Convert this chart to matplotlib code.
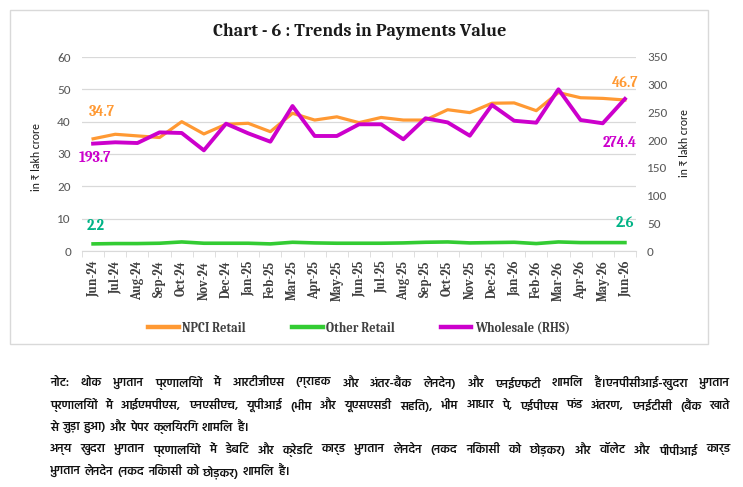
import numpy as np
import matplotlib
matplotlib.use("Agg")
import matplotlib.pyplot as plt
from matplotlib.patches import Rectangle
from matplotlib.lines import Line2D

months = ["Jun-24", "Jul-24", "Aug-24", "Sep-24", "Oct-24", "Nov-24", "Dec-24",
          "Jan-25", "Feb-25", "Mar-25", "Apr-25", "May-25", "Jun-25", "Jul-25",
          "Aug-25", "Sep-25", "Oct-25", "Nov-25", "Dec-25", "Jan-26", "Feb-26",
          "Mar-26", "Apr-26", "May-26", "Jun-26"]
npci_retail = [34.7, 36.1, 35.6, 35.1, 40.0, 36.2, 39.2, 39.5, 36.9, 42.6, 40.5, 41.5,
               39.7, 41.3, 40.5, 40.5, 43.7, 42.8, 45.7, 45.8, 43.4, 49.0, 47.4, 47.2, 46.7]
other_retail = [2.2, 2.3, 2.3, 2.4, 2.8, 2.4, 2.4, 2.4, 2.2, 2.7, 2.5, 2.4,
                2.4, 2.4, 2.5, 2.7, 2.8, 2.5, 2.6, 2.7, 2.3, 2.8, 2.6, 2.6, 2.6]
wholesale = [193.7, 196.1, 194.8, 214.0, 212.9, 181.6, 229.7, 212.3, 197.2, 261.6,
             207.5, 207.5, 228.6, 228.6, 201.5, 239.4, 232.0, 208.0, 263.4, 235.0,
             231.5, 291.7, 236.3, 230.4, 274.4]

title = "Chart - 6 : Trends in Payments Value"
y_label = "in ₹ lakh crore"
legend_labels = ["NPCI Retail", "Other Retail", "Wholesale (RHS)"]
note_lines = [
    "नोट: थोक भुगतान प्रणालियों में आरटीजीएस (ग्राहक और अंतर-बैंक लेनदेन) और एनईएफटी शामिल हैं।एनपीसीआई-खुदरा भुगतान",
    "प्रणालियों में आईएमपीएस, एनएसीएच, यूपीआई (भीम और यूएसएसडी सहित), भीम आधार पे, एईपीएस फंड अंतरण, एनईटीसी (बैंक खाते",
    "से जुड़ा हुआ) और पेपर क्लियरिंग शामिल हैं।",
    "अन्य खुदरा भुगतान प्रणालियों में डेबिट और क्रेडिट कार्ड भुगतान लेनदेन (नकद निकासी को छोड़कर) और वॉलेट और पीपीआई कार्ड",
    "भुगतान लेनदेन (नकद निकासी को छोड़कर) शामिल हैं।",
]
note_justify = [True, True, False, True, False]

ORANGE = "#ff9933"
GREEN = "#33cc33"
PURPLE = "#cc00cc"
TEAL = "#00b386"

SERIF = ["Caladea", "PT Serif", "DejaVu Serif"]
SANS = ["Carlito", "Lato", "DejaVu Sans"]
DEVA = ["Hind", "Noto Sans Devanagari", "DejaVu Sans"]

W, H = 743, 487


def fx(px):
    return px / W


def fy(py):
    return 1 - py / H


fig = plt.figure(figsize=(W / 100, H / 100), dpi=100)

# chart frame
fig.patches.append(Rectangle((fx(10), fy(344)), fx(708) - fx(10), fy(10) - fy(344),
                             transform=fig.transFigure, fill=False,
                             edgecolor="#d9d9d9", lw=1))

ax = fig.add_axes([fx(82), fy(251), fx(636) - fx(82), fy(57) - fy(251)])
x = np.arange(len(months))
ax.plot(x, npci_retail, color=ORANGE, lw=2.3)
ax.plot(x, other_retail, color=GREEN, lw=2.6)
ax2 = ax.twinx()
ax2.plot(x, wholesale, color=PURPLE, lw=2.8)

ax.set_xlim(-0.5, len(months) - 0.5)
ax.set_ylim(0, 60)
ax2.set_ylim(0, 350)
ax.set_yticks(range(0, 61, 10))
ax2.set_yticks(range(0, 351, 50))
ax.grid(axis="y", color="#d9d9d9", lw=0.9)
ax.set_axisbelow(True)
for a in (ax, ax2):
    for s in ["top", "left", "right"]:
        a.spines[s].set_visible(False)
ax.spines["bottom"].set_color("#d9d9d9")
ax2.spines["bottom"].set_visible(False)

ax.set_xticks(x)
ax.set_xticklabels(months, rotation=90, fontfamily=SERIF, fontweight="bold",
                   fontsize=9, color="#404040")
ax.set_xticks(np.arange(-0.5, len(months), 1), minor=True)
ax.tick_params(axis="x", which="major", length=0, pad=7)
ax.tick_params(axis="x", which="minor", length=4, color="#d9d9d9")
ax.tick_params(axis="y", length=0, pad=8, labelsize=9.5, labelcolor="#595959")
ax2.tick_params(axis="y", length=0, pad=8, labelsize=9.5, labelcolor="#595959")
for lab in ax.get_yticklabels() + ax2.get_yticklabels():
    lab.set_fontfamily(SANS)

# data labels at first and last points
lab_kw = dict(textcoords="offset points", ha="center", va="center",
              fontfamily=SERIF, fontweight="bold", fontsize=10.5)
ax.annotate(f"{npci_retail[0]:.1f}", (x[0], npci_retail[0]), xytext=(6.5, 19.5), color=ORANGE, **lab_kw)
ax.annotate(f"{npci_retail[-1]:.1f}", (x[-1], npci_retail[-1]), xytext=(0, 12), color=ORANGE, **lab_kw)
ax.annotate(f"{other_retail[0]:.1f}", (x[0], other_retail[0]), xytext=(1.5, 13), color=TEAL, **lab_kw)
ax.annotate(f"{other_retail[-1]:.1f}", (x[-1], other_retail[-1]), xytext=(0, 14), color=TEAL, **lab_kw)
ax2.annotate(f"{wholesale[0]:.1f}", (x[0], wholesale[0]), xytext=(1.5, -10), color=PURPLE, **lab_kw)
ax2.annotate(f"{wholesale[-1]:.1f}", (x[-1], wholesale[-1]), xytext=(-3.6, -32), color=PURPLE, **lab_kw)

fig.text(fx(360), fy(32), title, ha="center", va="center", fontfamily=SERIF,
         fontweight="bold", fontsize=13, color="#1a1a1a")
fig.text(fx(37), fy(157), y_label, rotation=90, ha="center", va="center",
         fontfamily=SANS, fontsize=8.5, color="#1a1a1a")
fig.text(fx(685), fy(143), y_label, rotation=90, ha="center", va="center",
         fontfamily=SANS, fontsize=8.5, color="#1a1a1a")

handles = [Line2D([], [], color=c, lw=3.2) for c in (ORANGE, GREEN, PURPLE)]
fig.legend(handles, legend_labels, loc="center", bbox_to_anchor=(fx(359), fy(328)),
           ncol=3, frameon=False, handlelength=2.45, handletextpad=0.25,
           columnspacing=3.7, prop=dict(family=SERIF, weight="bold", size=9),
           labelcolor="#404040")

# note below the chart, justified like the source
renderer = fig.canvas.get_renderer()
x0, x1 = 50, 730
for i, (line, just) in enumerate(zip(note_lines, note_justify)):
    ypix = 383 + i * 22.2
    words = line.split(" ")
    texts = [fig.text(0, fy(ypix), w, ha="left", va="center", fontfamily=DEVA,
                      fontsize=8.8, fontweight="semibold", color="#111111")
             for w in words]
    widths = [t.get_window_extent(renderer).width for t in texts]
    if just and len(words) > 1:
        gap = (x1 - x0 - sum(widths)) / (len(words) - 1)
    else:
        gap = 4.0
    pos = x0
    for t, w in zip(texts, widths):
        t.set_x(fx(pos))
        pos += w + gap

fig.savefig("out.png", dpi=100)
